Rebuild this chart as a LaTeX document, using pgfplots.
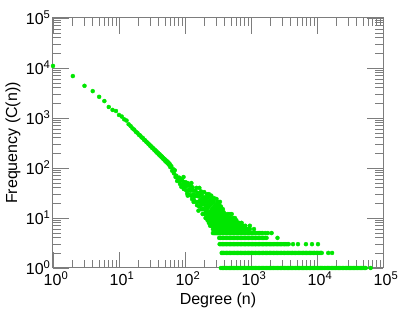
\documentclass[border=0pt]{standalone}
\usepackage{pgfplots}
\pgfplotsset{compat=1.18}
\usepackage{fontspec}
\setmainfont{Liberation Sans}
\definecolor{dotgreen}{RGB}{0,230,0}
\definecolor{axgray}{RGB}{125,125,125}
\newcommand{\tl}[1]{10\textsuperscript{#1}}
\begin{document}
\begin{tikzpicture}
\path[use as bounding box] (-53pt,-45pt) rectangle (346pt,268pt);
\begin{axis}[
  at={(0,0)}, anchor=south west, scale only axis,
  width=330pt, height=250pt,
  xmode=log, ymode=log,
  xmin=1, xmax=1e5, ymin=1, ymax=1e5,
  xtick={1,10,100,1000,10000,100000},
  ytick={1,10,100,1000,10000,100000},
  xticklabels={\tl{0},\tl{1},\tl{2},\tl{3},\tl{4},\tl{5}},
  yticklabels={\tl{0},\tl{1},\tl{2},\tl{3},\tl{4},\tl{5}},
  minor xtick={2,3,4,5,6,7,8,9,20,30,40,50,60,70,80,90,200,300,400,500,600,700,800,900,2000,3000,4000,5000,6000,7000,8000,9000,20000,30000,40000,50000,60000,70000,80000,90000},
  minor ytick={2,3,4,5,6,7,8,9,20,30,40,50,60,70,80,90,200,300,400,500,600,700,800,900,2000,3000,4000,5000,6000,7000,8000,9000,20000,30000,40000,50000,60000,70000,80000,90000},
  xtick pos=both, ytick pos=both, tick align=inside,
  major tick length=16pt, minor tick length=8pt,
  every tick/.style={axgray, line width=0.8pt},
  axis line style={axgray, line width=1pt},
  tick label style={font=\fontsize{16}{16}\selectfont},
  xticklabel style={xshift=3pt},
  yticklabel style={xshift=1pt},
  xlabel={Degree (n)}, ylabel={Frequency (C(n))},
  every axis x label/.style={at={(axis description cs:0.5,-0.128)}, anchor=center, font=\fontsize{16}{16}\selectfont},
  every axis y label/.style={at={(axis description cs:-0.121,0.5)}, rotate=90, anchor=center, font=\fontsize{16}{16}\selectfont},
]
% main curve and cloud
\addplot[only marks, mark=*, mark size=2pt, color=dotgreen] table {
n C
1 11000
2 6900
3 4400
4 3450
5 2650
6 2180
7 1660
8 1450
9 1380
10 1150
11 1070
12 940
13 890
14 750
15 690
16 620
17 585
18 530
19 505
20 462
21 445
22 410
23 398
24 365
25 356
26 330
27 322
28 300
29 294
30 272
31 270
32 250
33 249
34 232
35 231
36 214
37 216
38 200
39 202
40 186
41 190
42 176
43 178
44 165
45 169
46 155
47 158
48 148
49 151
50 139
51 143
52 132
53 138
54 126
55 131
56 120
57 125
58 114
59 119
60 104
62 109
64 88
66 95
68 78
70 90
72 66
74 70
76 55
78 62
80 56
82 64
84 48
86 57
88 42
90 60
92 46
94 53
95 66
96 38
98 48
100 43
102 52
104 36
106 44
108 31
110 50
110 28
112 36
114 44
116 29
118 37
120 35
122 44
124 28
125 50
126 36
128 24
130 41
132 29
134 35
135 21
136 23
138 29
140 27
143 35
146 21
149 28
150 40
152 18
155 32
158 21
160 14
161 27
164 17
165 40
167 22
170 21
172 29
174 18
175 34
176 24
178 15
180 29
182 19
184 24
185 12
186 15
188 21
190 19
192 25
194 15
195 33
196 21
198 12
200 26
202 16
204 22
205 10
206 13
208 18
210 17
212 25
214 15
215 30
216 21
218 12
220 26
222 16
224 21
225 9
226 13
228 18
230 17
230 30
233 22
236 13
236 27
239 18
242 11
245 23
248 14
250 28
251 19
252 22
254 11
257 15
260 14
262 24
263 20
266 11
269 16
272 9
275 21
275 25
278 12
281 17
284 9
287 14
290 13
293 18
296 10
299 15
300 24
302 8
305 19
308 11
311 16
313 21
314 8
317 12
320 12
325 17
330 8
335 13
339 21
340 7
};
% discrete rows
\addplot[only marks, mark=*, mark size=2pt, color=dotgreen] table {
n C
350 1
368 1
386 1
405 1
425 1
446 1
468 1
491 1
515 1
540 1
567 1
595 1
624 1
655 1
687 1
721 1
757 1
794 1
833 1
874 1
917 1
962 1
1010 1
1060 1
1110 1
1170 1
1230 1
1290 1
1350 1
1420 1
1490 1
1560 1
1640 1
1720 1
1800 1
1890 1
1990 1
2080 1
2190 1
2300 1
2410 1
2530 1
2650 1
2780 1
2920 1
3070 1
3220 1
3380 1
3540 1
3720 1
3900 1
4090 1
4290 1
4500 1
4730 1
4960 1
5200 1
5460 1
5730 1
6010 1
6300 1
6610 1
6940 1
7280 1
7640 1
8010 1
8410 1
8820 1
9250 1
9710 1
10200 1
10700 1
11200 1
11800 1
12300 1
12900 1
13600 1
14300 1
15000 1
15700 1
16500 1
17300 1
18100 1
19000 1
20000 1
21000 1
22000 1
23000 1
24200 1
25400 1
26600 1
27900 1
29300 1
30800 1
32300 1
33900 1
35500 1
37300 1
39100 1
41000 1
43100 1
45200 1
47400 1
49700 1
52200 1
54700 1
65000 1
360 2
368 2
386 2
405 2
425 2
446 2
468 2
491 2
515 2
540 2
567 2
595 2
624 2
655 2
687 2
721 2
757 2
794 2
833 2
874 2
917 2
962 2
1010 2
1060 2
1110 2
1170 2
1230 2
1290 2
1350 2
1420 2
1490 2
1560 2
1640 2
1720 2
1800 2
1890 2
1990 2
2080 2
2190 2
2300 2
2410 2
2530 2
2650 2
2780 2
2920 2
3070 2
3220 2
3380 2
3540 2
3720 2
3900 2
4090 2
4290 2
4500 2
4730 2
4960 2
5200 2
5460 2
5730 2
6010 2
6300 2
6610 2
6940 2
7280 2
7640 2
8010 2
8410 2
8820 2
9250 2
9710 2
10200 2
10700 2
11200 2
11800 2
14800 2
16900 2
335 3
350 3
368 3
386 3
405 3
425 3
446 3
468 3
491 3
515 3
540 3
567 3
595 3
624 3
655 3
687 3
721 3
757 3
794 3
833 3
874 3
917 3
962 3
1010 3
1060 3
1110 3
1170 3
1230 3
1290 3
1350 3
1420 3
1490 3
1560 3
1640 3
1720 3
1800 3
1890 3
1990 3
2080 3
2190 3
2300 3
2410 3
2530 3
2650 3
2780 3
2920 3
3070 3
3220 3
3380 3
3540 3
3720 3
4330 3
5150 3
6800 3
8400 3
10350 3
330 4
340 4
350 4
368 4
386 4
405 4
425 4
446 4
468 4
491 4
515 4
540 4
567 4
595 4
624 4
655 4
687 4
721 4
757 4
794 4
833 4
874 4
917 4
962 4
1010 4
1060 4
1110 4
1170 4
1230 4
1290 4
1350 4
1420 4
1490 4
1560 4
1640 4
1720 4
2520 4
265 5
275 5
285 5
295 5
305 5
315 5
325 5
335 5
350 5
368 5
386 5
405 5
425 5
446 5
468 5
491 5
515 5
540 5
567 5
595 5
624 5
655 5
687 5
721 5
757 5
794 5
833 5
874 5
917 5
962 5
1010 5
1060 5
1110 5
1170 5
1230 5
1290 5
1350 5
1420 5
1490 5
1640 5
1800 5
2050 5
265 6
275 6
285 6
295 6
305 6
315 6
325 6
335 6
350 6
368 6
386 6
405 6
425 6
446 6
468 6
491 6
515 6
540 6
567 6
595 6
624 6
655 6
687 6
721 6
757 6
794 6
833 6
874 6
917 6
962 6
1110 6
240 7
250 7
260 7
270 7
280 7
290 7
300 7
310 7
320 7
330 7
340 7
350 7
368 7
386 7
405 7
425 7
446 7
468 7
491 7
515 7
540 7
567 7
595 7
624 7
655 7
687 7
721 7
757 7
820 7
960 7
230 8
240 8
250 8
260 8
270 8
280 8
290 8
300 8
310 8
320 8
330 8
340 8
350 8
368 8
386 8
405 8
425 8
446 8
468 8
491 8
515 8
540 8
567 8
595 8
624 8
655 8
720 8
220 9
230 9
240 9
250 9
260 9
270 9
280 9
290 9
300 9
310 9
320 9
330 9
340 9
350 9
368 9
386 9
405 9
425 9
446 9
468 9
491 9
515 9
540 9
600 9
215 10
225 10
235 10
245 10
255 10
265 10
275 10
285 10
295 10
305 10
315 10
325 10
335 10
350 10
368 10
386 10
405 10
425 10
446 10
468 10
491 10
533 10
570 10
225 11
240 11
255 11
270 11
285 11
300 11
315 11
330 11
350 11
368 11
386 11
405 11
425 11
235 12
250 12
265 12
280 12
295 12
310 12
325 12
340 12
368 12
405 12
446 12
480 12
510 12
245 13
262 13
280 13
298 13
316 13
334 13
360 13
386 13
255 14
275 14
295 14
315 14
335 14
358 14
262 15
285 15
305 15
325 15
345 15
375 15
290 16
318 16
340 16
300 17
350 17
330 18
320 20
};
\end{axis}
\end{tikzpicture}
\end{document}
